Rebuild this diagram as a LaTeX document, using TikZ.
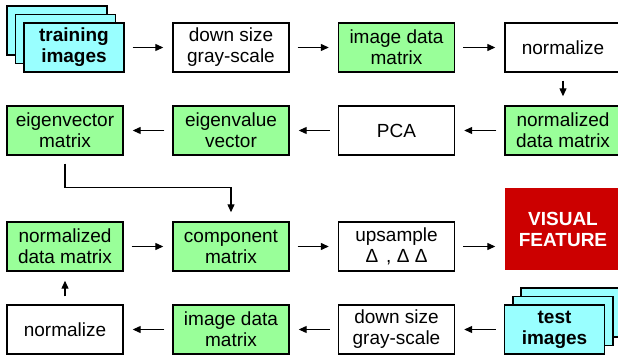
\documentclass[tikz,border=0pt]{standalone}
\usepackage{fontspec}
\setmainfont{Liberation Sans}
\usetikzlibrary{arrows.meta}
\definecolor{matgreen}{RGB}{153,255,153}
\definecolor{imgcyan}{RGB}{153,255,255}
\definecolor{featred}{RGB}{204,0,0}

\begin{document}
\begin{tikzpicture}[x=1pt,y=-1pt,
    box/.style={draw,line width=1.4pt,minimum width=116pt,minimum height=49pt,
        inner sep=0pt,align=center,font=\fontsize{19}{21}\selectfont},
    mat/.style={box,fill=matgreen},
    imgs/.style={box,fill=imgcyan,minimum width=100pt,
        font=\fontsize{19}{21}\selectfont\bfseries},
    flow/.style={-{Triangle[length=8pt,width=7pt]},line width=1.2pt,
        shorten <=8pt,shorten >=9pt}]
    \useasboundingbox (0,0) rectangle (618,358);

    % training stack
    \node[imgs] (tr3) at (57,30.5) {};
    \node[imgs] (tr2) at (65.5,39) {};
    \node[imgs] (tr1) at (74,47.5) {training\\images};

    % first row
    \node[box] (dsz1) at (231,47.5) {down size\\gray-scale};
    \node[mat] (idm1) at (396.5,47.5) {image data\\matrix};
    \node[box] (nrm1) at (563,47.5) {normalize};

    % second row
    \node[mat] (ndm1) at (563,130.5) {normalized\\data matrix};
    \node[box] (pca) at (396.5,130.5) {PCA};
    \node[mat] (eval) at (231,130.5) {eigenvalue\\vector};
    \node[mat] (evec) at (65,130.5) {eigenvector\\matrix};

    % third row
    \node[mat] (ndm2) at (65,246.5) {normalized\\data matrix};
    \node[mat] (comp) at (231,246.5) {component\\matrix};
    \node[box] (ups) at (396.5,246.5) {upsample\\Δ\hspace{8pt}, Δ Δ};
    \node[box,draw=none,fill=featred,text=white,minimum height=82pt,
        font=\fontsize{19}{21}\selectfont\bfseries] (feat) at (563,229)
        {VISUAL\\FEATURE};

    % test stack
    \node[imgs] (te3) at (571,312.5) {};
    \node[imgs] (te2) at (562.8,321) {};
    \node[imgs] (te1) at (554.5,329.5) {test\\images};

    % fourth row
    \node[box] (dsz2) at (396.5,329.5) {down size\\gray-scale};
    \node[mat] (idm2) at (231,329.5) {image data\\matrix};
    \node[box] (nrm2) at (65,329.5) {normalize};

    \path[flow] (tr1) edge (dsz1)
        (dsz1) edge (idm1)
        (idm1) edge (nrm1)
        (nrm1) edge (ndm1)
        (ndm1) edge (pca)
        (pca) edge (eval)
        (eval) edge (evec);
    \draw[flow] (evec.south) -- ++(0,32) -| (comp.north);
    \path[flow] (ndm2) edge (comp)
        (comp) edge (ups)
        (ups) edge (feat.west |- ups);
    \path[flow] (te1) edge (dsz2)
        (dsz2) edge (idm2)
        (idm2) edge (nrm2)
        (nrm2) edge (ndm2);
\end{tikzpicture}
\end{document}
